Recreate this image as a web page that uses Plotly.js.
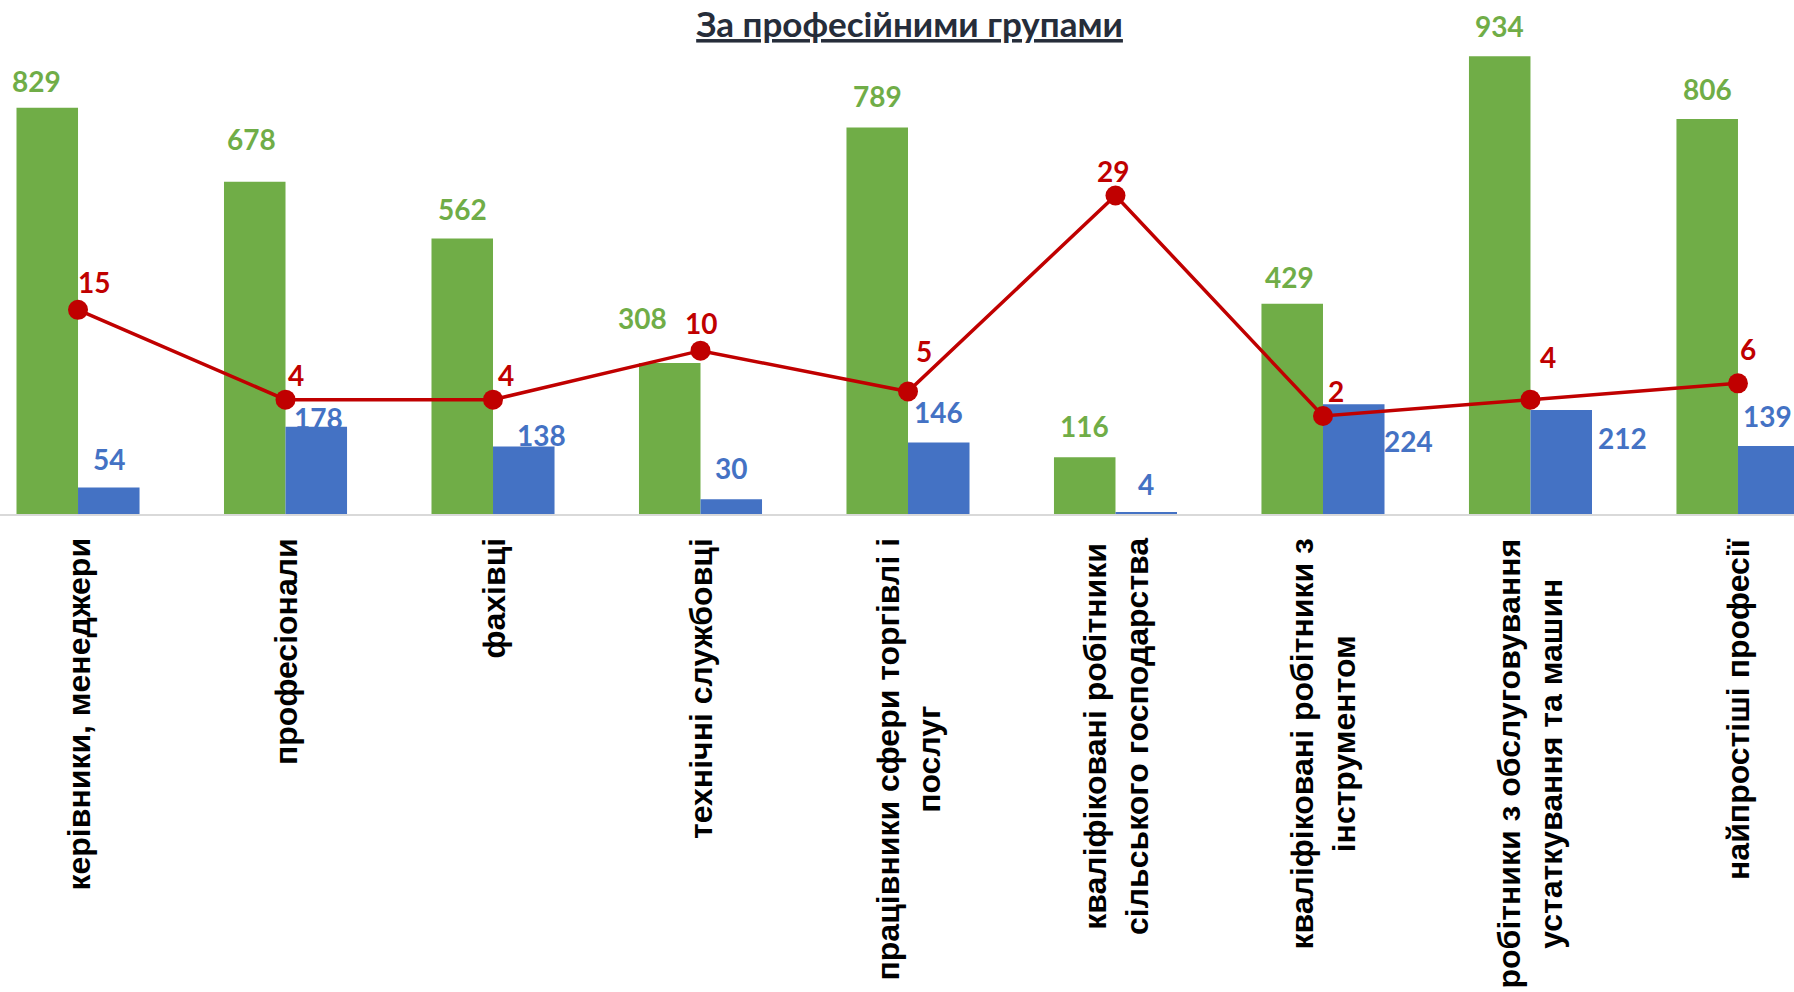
<!DOCTYPE html>
<html>
<head>
<meta charset="utf-8">
<script src="https://cdn.plot.ly/plotly-3.0.1.min.js"></script>
<style>
  html, body { margin: 0; padding: 0; background: #ffffff; }
  #chart { width: 1794px; height: 992px; }
</style>
</head>
<body>
<div id="chart"></div>
<script>
// ---- data ----
const categories = [
  'керівники, менеджери',
  'професіонали',
  'фахівці',
  'технічні службовці',
  'працівники сфери торгівлі і послуг',
  'кваліфіковані робітники сільського господарства',
  'кваліфіковані робітники з інструментом',
  'робітники з обслуговування устаткування та машин',
  'найпростіші професії'
];
const tickLabels = [
  'керівники, менеджери',
  'професіонали',
  'фахівці',
  'технічні службовці',
  'працівники сфери торгівлі і<br>послуг',
  'кваліфіковані робітники<br>сільського господарства',
  'кваліфіковані робітники з<br>інструментом',
  'робітники з обслуговування<br>устаткування та машин',
  'найпростіші професії'
];
const greenValues = [829, 678, 562, 308, 789, 116, 429, 934, 806];
const blueValues  = [54, 178, 138, 30, 146, 4, 224, 212, 139];
const redValues   = [15, 4, 4, 10, 5, 29, 2, 4, 6];
const chartTitle = 'За професійними групами';

// ---- styles ----
const GREEN = '#70ad47', BLUE = '#4472c4', RED = '#c00000';
const labelFont = 'Lato, "Open Sans", sans-serif';
const tickFont = '"Liberation Sans", Arial, sans-serif';
const barHalf = 30.75; // px, half of one bar width

// label offsets (px) relative to bar top centre / marker centre
const greenDx = [-11, -3, 0, -27, 0, 0, -3, 0, 0];
const greenDy = [-27, -43, -30, -45, -31, -31, -27, -30, -30];
const blueDx  = [0, 2, 18, 0, 0, 0, 55, 61, -1];
const blueDy  = [-29, -9, -11, -31, -30, -28, 37, 28, -30];
const redDx   = [16, 10, 13, 0, 16, -2, 13, 18, 10];
const redDy   = [-28, -25, -25, -28, -41, -25, -25, -43, -34];

const traces = [
  {
    type: 'bar', name: 'Ряд 1', x: categories, y: greenValues,
    marker: { color: GREEN }, yaxis: 'y', hoverinfo: 'skip'
  },
  {
    type: 'bar', name: 'Ряд 2', x: categories, y: blueValues,
    marker: { color: BLUE }, yaxis: 'y', hoverinfo: 'skip'
  },
  {
    type: 'scatter', mode: 'lines+markers', name: 'Ряд 3', x: categories, y: redValues,
    yaxis: 'y2', line: { color: RED, width: 3.5 },
    marker: { color: RED, size: 20 }, hoverinfo: 'skip', cliponaxis: false
  }
];

const annotations = [];
categories.forEach((c, i) => {
  annotations.push({
    x: i, y: greenValues[i], xref: 'x', yref: 'y',
    xshift: -barHalf + greenDx[i], yshift: -greenDy[i],
    text: String(greenValues[i]), showarrow: false,
    xanchor: 'center', yanchor: 'middle',
    font: { family: labelFont, size: 28, color: GREEN, weight: 700 }
  });
  annotations.push({
    x: i, y: blueValues[i], xref: 'x', yref: 'y',
    xshift: barHalf + blueDx[i], yshift: -blueDy[i],
    text: String(blueValues[i]), showarrow: false,
    xanchor: 'center', yanchor: 'middle',
    font: { family: labelFont, size: 28, color: BLUE, weight: 700 }
  });
  annotations.push({
    x: i, y: redValues[i], xref: 'x', yref: 'y2',
    xshift: redDx[i], yshift: -redDy[i],
    text: String(redValues[i]), showarrow: false,
    xanchor: 'center', yanchor: 'middle',
    font: { family: labelFont, size: 28, color: RED, weight: 700 }
  });
  annotations.push({
    x: i, y: 0, xref: 'x', yref: 'y',
    yshift: -22, textangle: -90,
    text: tickLabels[i], showarrow: false,
    xanchor: 'center', yanchor: 'top', align: 'center',
    font: { family: tickFont, size: 32, color: '#000000', weight: 700 }
  });
});

const layout = {
  width: 1794, height: 992,
  margin: { l: 0, r: 0, t: 23.5, b: 477.5, pad: 0 },
  paper_bgcolor: '#ffffff', plot_bgcolor: '#ffffff',
  showlegend: false,
  barmode: 'group', bargap: 0.407, bargroupgap: 0,
  title: {
    text: chartTitle,
    x: 0.507, xanchor: 'center',
    y: 0.975, yanchor: 'middle', yref: 'container',
    font: { family: labelFont, size: 35, color: '#262d3a', weight: 700, lineposition: 'under' }
  },
  xaxis: {
    type: 'category', range: [-0.376, 8.270],
    showticklabels: false, ticks: '', showgrid: false,
    showline: true, linecolor: '#d9d9d9', linewidth: 2, zeroline: false
  },
  yaxis: {
    range: [0, 1000], visible: false, showgrid: false, zeroline: false
  },
  yaxis2: {
    range: [-10, 50], overlaying: 'y', side: 'right',
    visible: false, showgrid: false, zeroline: false
  },
  annotations: annotations
};

Plotly.newPlot('chart', traces, layout, { displayModeBar: false, staticPlot: true });
</script>
</body>
</html>
